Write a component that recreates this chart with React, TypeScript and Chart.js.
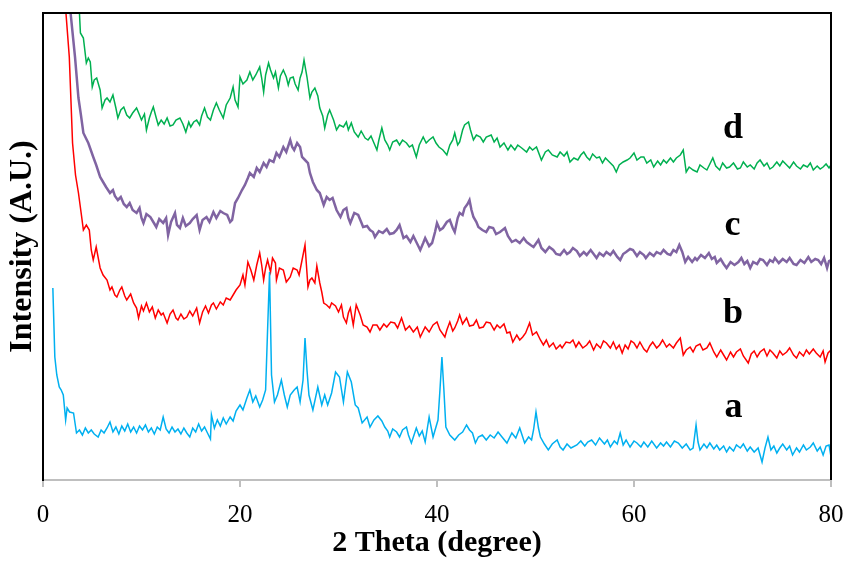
import React, { useEffect, useRef } from 'react';
import { Chart, registerables } from 'chart.js';

Chart.register(...registerables);

const xTickValues = [0, 20, 40, 60, 80];

// [2θ (degree), intensity (a.u.)]
const seriesA: [number, number][] = [
  [1.0, 192], [1.2, 123], [1.4, 105], [1.65, 93], [1.85, 90], [2.06, 85], [2.3, 60], [2.45, 72], [2.7, 68], [3.1, 67],
  [3.4, 47], [3.7, 50], [4.0, 45], [4.3, 52], [4.6, 47], [4.9, 50], [5.2, 46], [5.6, 43], [5.9, 50], [6.2, 47],
  [6.5, 52], [6.8, 58], [7.1, 48], [7.4, 53], [7.7, 46], [8.0, 54], [8.3, 49], [8.6, 56], [8.9, 48], [9.2, 53],
  [9.5, 47], [9.8, 54], [10.1, 50], [10.4, 55], [10.7, 48], [11.0, 52], [11.3, 46], [11.6, 53], [11.9, 50], [12.2, 63],
  [12.5, 51], [12.8, 47], [13.1, 53], [13.4, 48], [13.7, 51], [14.0, 46], [14.3, 52], [14.6, 47], [14.9, 43], [15.2, 52],
  [15.5, 48], [15.8, 56], [16.1, 49], [16.4, 53], [16.7, 47], [17.0, 41], [17.1, 65], [17.4, 52], [17.7, 60], [18.0, 54],
  [18.3, 62], [18.6, 56], [19.0, 63], [19.3, 59], [19.6, 69], [20.0, 75], [20.3, 70], [20.7, 82], [21.0, 90], [21.3, 78],
  [21.6, 84], [22.0, 73], [22.3, 80], [22.6, 90], [22.8, 150], [23.0, 208], [23.2, 105], [23.5, 78], [23.8, 85], [24.2, 100],
  [24.5, 85], [24.8, 73], [25.1, 85], [25.5, 90], [25.8, 93], [26.1, 78], [26.4, 100], [26.6, 142], [26.8, 110], [27.0, 85],
  [27.4, 70], [27.9, 93], [28.3, 75], [28.6, 85], [28.9, 75], [29.3, 87], [29.7, 108], [30.1, 103], [30.5, 78], [30.9, 108],
  [31.3, 98], [31.7, 75], [32.0, 72], [32.4, 57], [32.9, 63], [33.2, 53], [33.6, 60], [34.0, 64], [34.4, 59], [34.7, 53],
  [35.0, 49], [35.2, 43], [35.5, 51], [35.9, 48], [36.2, 43], [36.5, 50], [36.9, 53], [37.1, 45], [37.4, 37], [37.9, 52],
  [38.2, 44], [38.5, 49], [38.8, 38], [39.2, 63], [39.6, 43], [40.1, 60], [40.3, 90], [40.5, 123], [40.7, 90], [40.9, 53],
  [41.3, 45], [41.8, 40], [42.2, 45], [42.6, 48], [43.0, 55], [43.3, 50], [43.6, 47], [43.9, 37], [44.2, 43], [44.6, 45],
  [45.0, 40], [45.4, 45], [45.8, 42], [46.2, 48], [46.6, 43], [47.1, 37], [47.6, 47], [48.0, 42], [48.4, 52], [48.9, 37],
  [49.3, 43], [49.6, 40], [49.8, 50], [50.05, 68], [50.3, 52], [50.5, 43], [50.9, 36], [51.3, 30], [51.7, 36], [52.2, 40],
  [52.5, 33], [52.8, 30], [53.2, 36], [53.6, 32], [54.2, 35], [54.6, 39], [55.0, 34], [55.3, 38], [55.7, 40], [56.1, 35],
  [56.5, 42], [57.0, 36], [57.3, 40], [57.6, 33], [58.0, 39], [58.3, 36], [58.6, 47], [58.9, 35], [59.2, 40], [59.6, 33],
  [60.0, 39], [60.3, 37], [60.7, 33], [61.0, 38], [61.4, 33], [61.8, 39], [62.3, 32], [62.7, 37], [63.0, 34], [63.3, 38],
  [63.7, 33], [64.1, 39], [64.5, 37], [64.9, 32], [65.3, 36], [65.7, 30], [66.0, 32], [66.3, 55], [66.5, 38], [66.7, 30],
  [67.1, 36], [67.4, 32], [67.7, 37], [68.1, 31], [68.4, 35], [68.7, 30], [69.1, 34], [69.4, 28], [69.7, 33], [70.1, 29],
  [70.4, 35], [70.8, 32], [71.1, 36], [71.5, 29], [71.8, 33], [72.2, 28], [72.6, 32], [73.0, 18], [73.3, 32], [73.6, 43],
  [73.9, 30], [74.2, 34], [74.5, 27], [74.8, 32], [75.1, 36], [75.5, 30], [75.8, 34], [76.1, 25], [76.5, 32], [76.8, 28],
  [77.2, 35], [77.5, 30], [77.9, 33], [78.2, 37], [78.6, 29], [78.9, 33], [79.2, 25], [79.5, 34], [79.8, 35], [80.0, 23],
];

const seriesB: [number, number][] = [
  [2.2, 520], [2.33, 467], [2.67, 423], [3.0, 337], [3.3, 305], [3.6, 287], [3.9, 265], [4.1, 250], [4.4, 255], [4.7, 250],
  [4.9, 230], [5.1, 220], [5.4, 233], [5.8, 212], [6.1, 205], [6.5, 200], [6.8, 190], [7.0, 193], [7.3, 185], [7.5, 183],
  [7.8, 190], [8.0, 193], [8.3, 184], [8.5, 180], [8.9, 186], [9.2, 177], [9.5, 172], [9.7, 162], [10.0, 174], [10.2, 169],
  [10.5, 177], [10.8, 168], [11.1, 173], [11.4, 162], [11.7, 170], [12.0, 165], [12.2, 167], [12.6, 157], [12.9, 166], [13.2, 170],
  [13.5, 162], [13.7, 160], [14.0, 166], [14.3, 161], [14.6, 163], [14.9, 169], [15.2, 164], [15.6, 172], [15.9, 157], [16.2, 168],
  [16.5, 174], [16.8, 167], [17.1, 175], [17.3, 177], [17.6, 171], [18.0, 178], [18.3, 175], [18.6, 182], [19.0, 180], [19.3, 185],
  [19.6, 190], [20.0, 195], [20.3, 205], [20.5, 195], [20.8, 218], [21.1, 210], [21.4, 200], [21.7, 215], [22.0, 227], [22.2, 215],
  [22.4, 200], [22.6, 212], [22.8, 220], [23.1, 208], [23.3, 222], [23.6, 217], [23.7, 200], [24.0, 212], [24.4, 210], [24.7, 198],
  [25.1, 203], [25.4, 212], [25.8, 210], [26.0, 205], [26.3, 220], [26.6, 235], [26.9, 193], [27.1, 200], [27.3, 202], [27.6, 197],
  [27.8, 214], [28.1, 197], [28.3, 188], [28.5, 177], [28.8, 175], [29.1, 172], [29.3, 177], [29.7, 174], [30.0, 168], [30.3, 175],
  [30.5, 163], [30.8, 157], [31.0, 167], [31.2, 172], [31.5, 155], [31.8, 175], [32.2, 165], [32.5, 155], [32.9, 153], [33.2, 148],
  [33.5, 155], [33.9, 155], [34.2, 150], [34.6, 156], [34.9, 153], [35.3, 158], [35.7, 157], [36.0, 152], [36.4, 162], [36.8, 150],
  [37.2, 154], [37.6, 148], [38.0, 153], [38.3, 143], [38.8, 153], [39.2, 148], [39.6, 155], [40.0, 158], [40.3, 150], [40.8, 143],
  [41.0, 150], [41.3, 158], [41.6, 149], [41.8, 152], [42.1, 159], [42.3, 165], [42.6, 156], [43.0, 162], [43.3, 154], [43.7, 155],
  [44.0, 160], [44.3, 152], [44.7, 153], [45.0, 158], [45.4, 157], [45.8, 150], [46.1, 155], [46.4, 152], [46.8, 156], [47.1, 147],
  [47.4, 148], [47.7, 138], [48.1, 145], [48.4, 140], [48.7, 143], [49.0, 147], [49.4, 157], [49.7, 145], [50.1, 148], [50.5, 140],
  [50.8, 135], [51.1, 140], [51.4, 133], [51.8, 137], [52.1, 131], [52.5, 135], [52.7, 132], [53.1, 138], [53.5, 137], [53.8, 140],
  [54.1, 133], [54.4, 138], [54.8, 132], [55.2, 135], [55.5, 139], [55.9, 130], [56.2, 136], [56.6, 132], [56.9, 139], [57.2, 137],
  [57.6, 132], [57.9, 138], [58.2, 131], [58.5, 135], [58.8, 127], [59.1, 135], [59.4, 131], [59.7, 139], [60.0, 137], [60.3, 132],
  [60.6, 138], [61.0, 131], [61.3, 128], [61.6, 134], [61.9, 138], [62.3, 132], [62.6, 135], [62.9, 140], [63.3, 133], [63.6, 136],
  [64.0, 132], [64.3, 137], [64.7, 142], [65.0, 125], [65.3, 130], [65.7, 133], [66.0, 128], [66.3, 134], [66.7, 136], [67.0, 130],
  [67.4, 132], [67.7, 137], [68.1, 128], [68.4, 123], [68.8, 130], [69.1, 125], [69.4, 120], [69.8, 128], [70.1, 123], [70.4, 128],
  [70.8, 131], [71.1, 124], [71.6, 117], [71.9, 126], [72.2, 129], [72.5, 123], [72.8, 128], [73.2, 131], [73.5, 124], [73.8, 130],
  [74.1, 127], [74.5, 122], [74.8, 129], [75.1, 125], [75.5, 128], [75.8, 132], [76.2, 125], [76.5, 122], [76.8, 128], [77.2, 124],
  [77.5, 130], [77.8, 126], [78.2, 131], [78.5, 127], [78.9, 123], [79.2, 129], [79.4, 118], [79.7, 127], [80.0, 130],
];

const seriesC: [number, number][] = [
  [2.7, 520], [2.8, 467], [3.25, 423], [3.6, 382], [3.85, 365], [4.1, 347], [4.35, 342], [4.6, 337], [4.85, 330], [5.1, 323],
  [5.4, 315], [5.8, 303], [6.1, 298], [6.4, 293], [6.8, 287], [7.1, 290], [7.3, 284], [7.6, 280], [7.9, 283], [8.2, 276],
  [8.5, 273], [8.8, 277], [9.1, 270], [9.5, 267], [9.8, 272], [10.0, 262], [10.2, 257], [10.5, 266], [10.9, 263], [11.2, 258],
  [11.5, 253], [11.8, 261], [12.2, 257], [12.5, 262], [12.7, 245], [13.0, 258], [13.4, 267], [13.6, 255], [13.9, 252], [14.2, 262],
  [14.5, 254], [14.9, 257], [15.2, 261], [15.6, 265], [15.9, 250], [16.2, 260], [16.6, 263], [16.9, 258], [17.3, 268], [17.6, 262],
  [18.0, 269], [18.3, 267], [18.7, 265], [19.0, 258], [19.2, 260], [19.5, 277], [19.8, 282], [20.2, 290], [20.5, 295], [20.8, 302],
  [21.0, 307], [21.4, 303], [21.7, 312], [22.0, 308], [22.4, 317], [22.7, 313], [23.0, 320], [23.4, 318], [23.7, 327], [24.0, 323],
  [24.4, 333], [24.7, 328], [25.1, 340], [25.3, 333], [25.5, 330], [25.8, 337], [26.1, 333], [26.3, 323], [26.6, 320], [26.9, 317],
  [27.1, 307], [27.4, 298], [27.8, 290], [28.1, 287], [28.5, 275], [28.8, 283], [29.1, 280], [29.4, 282], [29.8, 270], [30.2, 263],
  [30.5, 270], [30.8, 272], [31.0, 262], [31.2, 257], [31.6, 267], [32.0, 265], [32.3, 258], [32.5, 253], [32.9, 254], [33.2, 250],
  [33.5, 248], [33.7, 243], [34.1, 249], [34.5, 247], [34.9, 251], [35.2, 246], [35.6, 247], [35.9, 250], [36.2, 255], [36.6, 242],
  [36.9, 244], [37.3, 238], [37.6, 244], [37.9, 238], [38.3, 230], [38.6, 237], [38.8, 242], [39.2, 234], [39.5, 237], [39.8, 248],
  [40.0, 257], [40.3, 250], [40.6, 252], [41.0, 258], [41.3, 260], [41.6, 252], [41.8, 248], [42.1, 262], [42.3, 267], [42.6, 265],
  [42.8, 272], [43.1, 276], [43.3, 280], [43.5, 270], [43.7, 263], [44.0, 258], [44.2, 253], [44.6, 250], [45.0, 248], [45.3, 253],
  [45.7, 252], [46.0, 246], [46.4, 248], [46.9, 252], [47.2, 244], [47.6, 238], [48.0, 240], [48.4, 237], [48.8, 242], [49.1, 238],
  [49.5, 235], [49.8, 233], [50.3, 240], [50.6, 232], [51.0, 228], [51.4, 233], [51.8, 230], [52.1, 226], [52.5, 225], [52.9, 230],
  [53.2, 226], [53.5, 228], [53.8, 232], [54.2, 229], [54.5, 224], [54.9, 228], [55.2, 225], [55.6, 230], [55.9, 226], [56.2, 222],
  [56.5, 227], [56.9, 224], [57.2, 228], [57.6, 225], [57.9, 229], [58.3, 223], [58.6, 220], [58.9, 226], [59.2, 228], [59.6, 231],
  [59.9, 230], [60.3, 224], [60.6, 228], [61.0, 225], [61.2, 222], [61.6, 227], [62.0, 224], [62.3, 228], [62.7, 226], [63.0, 230],
  [63.4, 226], [63.7, 225], [64.0, 230], [64.3, 228], [64.6, 235], [64.9, 228], [65.2, 218], [65.5, 223], [65.9, 218], [66.2, 222],
  [66.4, 220], [66.8, 225], [67.2, 222], [67.6, 227], [67.9, 221], [68.2, 223], [68.4, 217], [68.8, 221], [69.1, 216], [69.4, 212],
  [69.8, 218], [70.2, 215], [70.6, 218], [70.9, 222], [71.2, 216], [71.5, 219], [71.8, 212], [72.1, 218], [72.5, 216], [72.8, 221],
  [73.1, 220], [73.5, 215], [73.8, 220], [74.1, 218], [74.3, 222], [74.7, 217], [75.1, 221], [75.5, 218], [75.8, 222], [76.2, 216],
  [76.5, 215], [76.9, 220], [77.3, 217], [77.7, 223], [78.0, 218], [78.4, 221], [78.7, 220], [79.0, 216], [79.3, 222], [79.6, 212],
  [79.8, 219], [80.0, 220],
];

const seriesD: [number, number][] = [
  [3.6, 520], [3.7, 467], [3.8, 447], [4.1, 442], [4.4, 417], [4.6, 422], [4.8, 418], [5.0, 393], [5.2, 400], [5.45, 402],
  [5.8, 390], [6.0, 372], [6.3, 380], [6.5, 382], [6.8, 378], [7.1, 385], [7.4, 372], [7.6, 362], [7.9, 370], [8.2, 373],
  [8.5, 365], [8.8, 362], [9.1, 367], [9.5, 372], [9.8, 365], [10.0, 360], [10.3, 366], [10.5, 350], [10.8, 362], [11.0, 368],
  [11.2, 373], [11.5, 362], [11.7, 355], [12.0, 360], [12.3, 356], [12.6, 362], [12.9, 354], [13.2, 355], [13.5, 360], [13.9, 362],
  [14.2, 356], [14.5, 348], [14.8, 358], [15.0, 353], [15.3, 358], [15.6, 360], [15.9, 355], [16.1, 364], [16.4, 372], [16.7, 363],
  [17.0, 360], [17.3, 370], [17.6, 377], [17.9, 370], [18.3, 362], [18.6, 375], [19.0, 382], [19.3, 393], [19.5, 380], [19.8, 373],
  [20.0, 403], [20.3, 396], [20.7, 400], [21.0, 408], [21.3, 400], [21.6, 405], [22.0, 413], [22.2, 402], [22.4, 388], [22.6, 405],
  [22.9, 417], [23.1, 410], [23.4, 402], [23.6, 408], [23.9, 392], [24.1, 404], [24.4, 410], [24.7, 403], [24.9, 395], [25.1, 402],
  [25.4, 403], [25.6, 396], [25.9, 390], [26.1, 402], [26.3, 408], [26.5, 420], [26.8, 403], [27.1, 382], [27.3, 388], [27.6, 392],
  [27.9, 384], [28.1, 372], [28.4, 364], [28.6, 352], [28.9, 365], [29.1, 370], [29.5, 360], [29.8, 350], [30.1, 355], [30.5, 353],
  [30.8, 358], [31.0, 350], [31.3, 357], [31.6, 348], [32.0, 343], [32.3, 349], [32.7, 342], [33.0, 340], [33.3, 344], [33.6, 337],
  [33.9, 330], [34.1, 340], [34.4, 352], [34.7, 340], [35.0, 335], [35.2, 330], [35.5, 338], [35.9, 340], [36.2, 335], [36.5, 340],
  [36.9, 337], [37.2, 333], [37.5, 335], [37.9, 323], [38.2, 335], [38.6, 343], [38.9, 337], [39.2, 340], [39.6, 343], [39.9, 337],
  [40.2, 333], [40.6, 330], [41.0, 325], [41.3, 335], [41.6, 340], [41.8, 347], [42.1, 335], [42.3, 338], [42.6, 350], [42.8, 355],
  [43.2, 358], [43.4, 350], [43.7, 340], [44.0, 345], [44.4, 343], [44.7, 338], [45.0, 343], [45.5, 345], [45.8, 338], [46.1, 342],
  [46.4, 333], [46.8, 337], [47.2, 330], [47.5, 335], [47.9, 330], [48.2, 335], [48.6, 332], [49.1, 328], [49.4, 333], [49.7, 330],
  [50.1, 333], [50.6, 320], [51.0, 328], [51.3, 330], [51.7, 325], [52.2, 323], [52.5, 328], [52.9, 324], [53.2, 328], [53.5, 318],
  [53.9, 322], [54.3, 320], [54.6, 325], [54.9, 328], [55.2, 323], [55.5, 320], [55.8, 326], [56.2, 322], [56.5, 323], [56.8, 317],
  [57.1, 322], [57.5, 318], [57.9, 314], [58.2, 308], [58.5, 315], [58.9, 318], [59.3, 320], [59.6, 322], [60.0, 327], [60.3, 320],
  [60.7, 323], [61.0, 323], [61.3, 317], [61.7, 320], [62.0, 313], [62.4, 319], [62.7, 315], [63.0, 320], [63.3, 317], [63.7, 322],
  [64.0, 318], [64.3, 322], [64.7, 325], [65.0, 330], [65.3, 308], [65.6, 313], [66.0, 310], [66.4, 308], [66.7, 315], [67.1, 312],
  [67.4, 310], [67.7, 316], [68.0, 322], [68.3, 314], [68.7, 310], [69.0, 317], [69.4, 312], [69.7, 313], [70.1, 317], [70.5, 311],
  [70.8, 312], [71.1, 318], [71.5, 313], [71.8, 315], [72.2, 311], [72.5, 317], [72.8, 320], [73.2, 314], [73.5, 317], [73.8, 311],
  [74.1, 313], [74.5, 318], [74.8, 314], [75.1, 319], [75.5, 315], [75.8, 312], [76.2, 318], [76.5, 314], [76.9, 311], [77.2, 315],
  [77.6, 313], [77.9, 317], [78.2, 310], [78.6, 314], [78.9, 311], [79.2, 313], [79.5, 316], [79.8, 312], [80.0, 315],
];

const curveLabels = ['a', 'b', 'c', 'd'];
// label anchor (2θ, intensity) for each curve tag
const curveLabelAnchors: [number, number][] = [[70.1, 63], [70.05, 157], [70.0, 245], [70.05, 342]];

const SERIF = '"Liberation Serif", "Times New Roman", Times, serif';

const framePlugin = {
  id: 'frameAndTags',
  afterDraw(chart: any) {
    const { ctx, chartArea } = chart;
    const { left, top, right, bottom } = chartArea;
    ctx.save();
    ctx.strokeStyle = '#000000';
    ctx.lineWidth = 2;
    ctx.beginPath();
    ctx.moveTo(left - 1, top);
    ctx.lineTo(right, top);
    ctx.lineTo(right, bottom);
    ctx.stroke();
    ctx.fillStyle = '#000000';
    ctx.font = `bold 36px ${SERIF}`;
    ctx.textAlign = 'center';
    ctx.textBaseline = 'alphabetic';
    curveLabels.forEach((t, i) => {
      const [x, y] = curveLabelAnchors[i];
      ctx.fillText(t, chart.scales.x.getPixelForValue(x), chart.scales.y.getPixelForValue(y));
    });
    ctx.restore();
  },
};

export default function App() {
  const canvasRef = useRef<HTMLCanvasElement | null>(null);

  useEffect(() => {
    if (!canvasRef.current) return;
    const mk = (data: [number, number][], color: string, width: number) => ({
      data,
      borderColor: color,
      backgroundColor: color,
      borderWidth: width,
      pointRadius: 0,
      tension: 0,
      fill: false,
    });
    const chart = new Chart(canvasRef.current, {
      type: 'line',
      data: {
        datasets: [
          mk(seriesA, '#00B0F0', 1.5),
          mk(seriesB, '#FF0000', 1.5),
          mk(seriesC, '#8064A2', 2.5),
          mk(seriesD, '#00B050', 1.5),
        ] as any,
      },
      options: {
        animation: false,
        responsive: false,
        layout: { padding: { top: 13, right: 15, left: 0, bottom: 0 } },
        plugins: { legend: { display: false }, tooltip: { enabled: false } },
        scales: {
          x: {
            type: 'linear',
            min: 0,
            max: 80,
            afterBuildTicks: (scale: any) => {
              scale.ticks = xTickValues.map((v) => ({ value: v }));
            },
            afterFit: (scale: any) => {
              scale.height = 88;
              scale.paddingLeft = 0;
              scale.paddingRight = 0;
            },
            ticks: {
              color: '#000000',
              font: { family: SERIF, size: 25 },
              padding: 13,
              maxRotation: 0,
            },
            grid: {
              drawOnChartArea: false,
              drawTicks: true,
              tickLength: 7,
              color: '#BFBFBF',
              lineWidth: 2,
            },
            border: { color: '#BFBFBF', width: 2 },
            title: {
              display: true,
              text: '2 Theta (degree)',
              color: '#000000',
              font: { family: SERIF, size: 30, weight: 'bold', lineHeight: 1.2 },
              padding: { top: 0, bottom: 7 },
            },
          },
          y: {
            type: 'linear',
            min: 0,
            max: 467,
            afterFit: (scale: any) => {
              scale.width = 43;
            },
            ticks: { display: false },
            grid: { display: false },
            border: { color: '#000000', width: 2 },
            title: {
              display: true,
              text: 'Intensity (A.U.)',
              color: '#000000',
              font: { family: SERIF, size: 32, weight: 'bold', lineHeight: 1.2 },
              padding: { top: 4, bottom: 0 },
            },
          },
        },
      } as any,
      plugins: [framePlugin],
    });
    return () => chart.destroy();
  }, []);

  return (
    <div style={{ position: 'absolute', left: 0, top: 0, width: 846, height: 568, background: '#ffffff' }}>
      <canvas ref={canvasRef} width={846} height={568} style={{ display: 'block' }} />
    </div>
  );
}
